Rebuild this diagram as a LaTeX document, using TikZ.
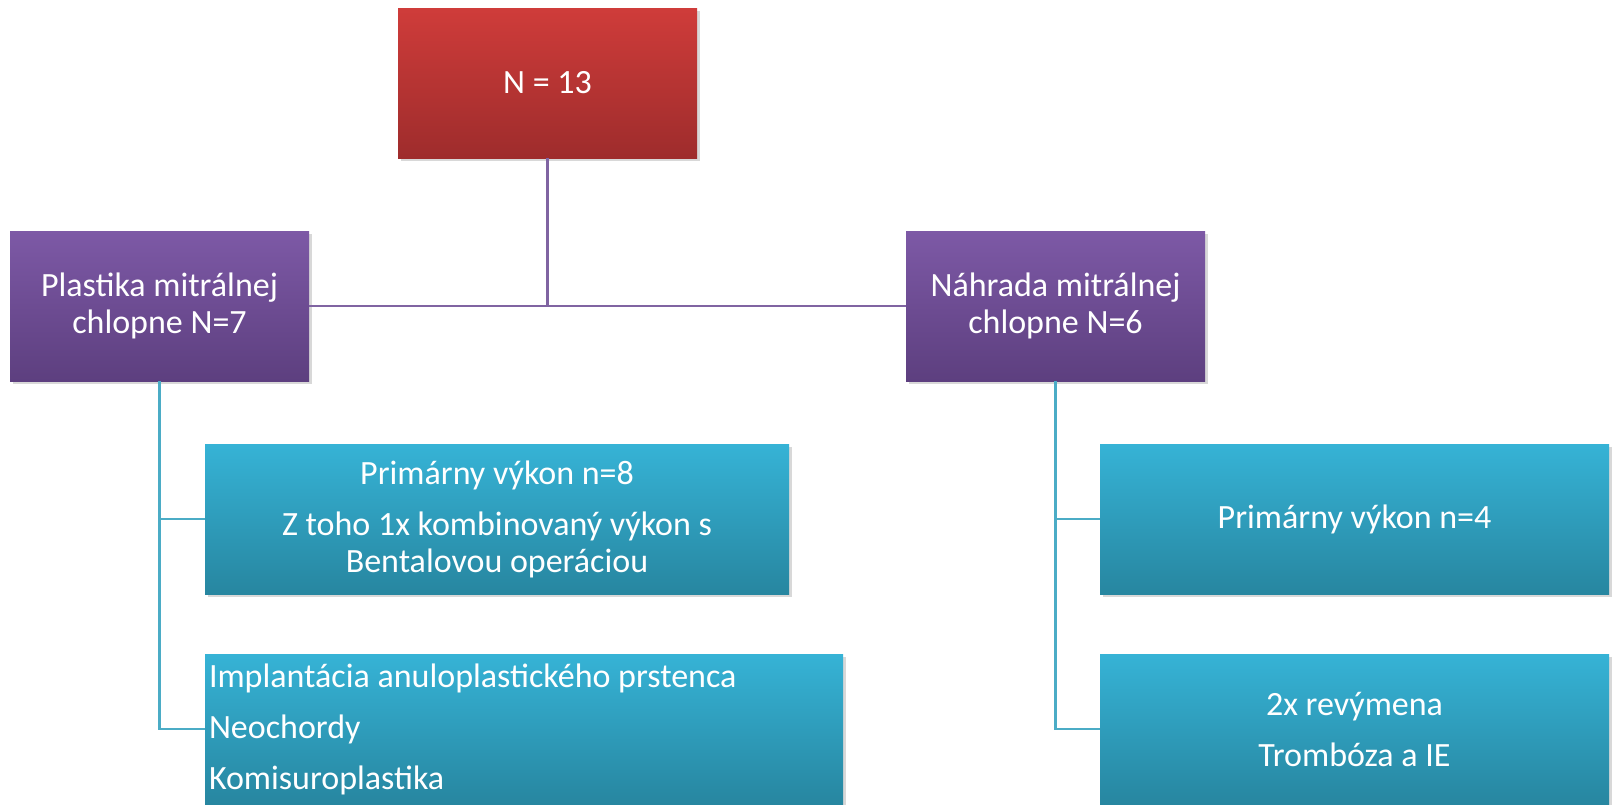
\documentclass[tikz,border=0pt]{standalone}
\usepackage{fontspec}
\setmainfont{Carlito}
\usetikzlibrary{positioning,shadows}
\definecolor{redtop}{RGB}{207,60,58}
\definecolor{redbot}{RGB}{158,44,44}
\definecolor{purtop}{RGB}{125,89,166}
\definecolor{purbot}{RGB}{93,63,127}
\definecolor{cyantop}{RGB}{54,179,214}
\definecolor{cyanbot}{RGB}{39,134,160}
\definecolor{purline}{RGB}{128,100,162}
\definecolor{cyanline}{RGB}{75,172,198}

\begin{document}
\begin{tikzpicture}[x=1pt,y=-1pt,
  box/.style={rectangle,inner sep=4pt,text=white,
    font=\fontsize{34}{37}\selectfont,
    drop shadow={shadow xshift=3pt,shadow yshift=-3pt,opacity=.3}},
  topbox/.style={box,top color=redtop,bottom color=redbot,minimum width=299pt,minimum height=150pt,align=center},
  groupbox/.style={box,top color=purtop,bottom color=purbot,minimum width=299pt,minimum height=150pt,align=center},
  itembox/.style={box,top color=cyantop,bottom color=cyanbot,minimum height=150pt},
  toplink/.style={draw=purline,line width=2.2pt},
  itemlink/.style={draw=cyanline,line width=2.2pt}]
\useasboundingbox (0,0) rectangle (1612,804);
\fill[white] (0,0) rectangle (1612,804);
% root and the two groups
\node[topbox] (total) at (547.5,83) {N = 13};
\node[groupbox] (plastika) at (159.5,306) {Plastika mitrálnej\\chlopne N=7};
\node[groupbox] (nahrada) at (1055.5,306) {Náhrada mitrálnej\\chlopne N=6};
% items under Plastika
\node[itembox,minimum width=584pt,align=center] (plprim) at (497,519)
  {Primárny výkon n=8\\[14pt]Z toho 1x kombinovaný výkon s\\Bentalovou operáciou};
\node[itembox,text width=630pt,align=flush left] (pltech) at (524,729)
  {Implantácia anuloplastického prstenca\\[14pt]Neochordy\\[14pt]Komisuroplastika};
% items under Nahrada
\node[itembox,minimum width=509pt,align=center] (nhprim) at (1354.5,519) {Primárny výkon n=4};
\node[itembox,minimum width=509pt,align=center] (nhcompl) at (1354.5,729)
  {2x revýmena\\[14pt]Trombóza a IE};
% connectors
\draw[toplink] (total.south) -- (total.south |- plastika.east);
\draw[toplink] (plastika.east) -- (nahrada.west);
\draw[itemlink] (plastika.south) |- (plprim.west);
\draw[itemlink] (plastika.south) |- (pltech.west);
\draw[itemlink] (nahrada.south) |- (nhprim.west);
\draw[itemlink] (nahrada.south) |- (nhcompl.west);
\end{tikzpicture}
\end{document}
